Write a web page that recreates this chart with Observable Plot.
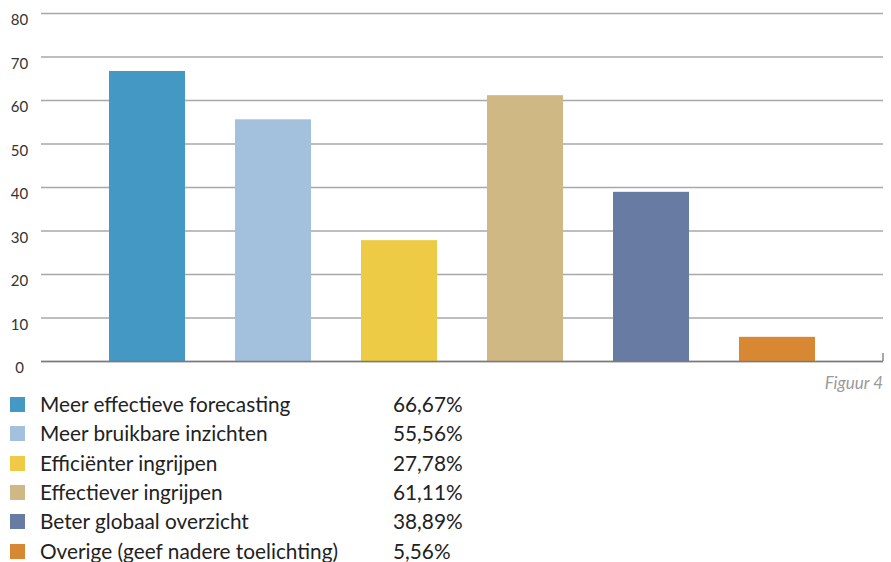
<!DOCTYPE html>
<html>
<head>
<meta charset="utf-8">
<script src="https://cdn.jsdelivr.net/npm/d3@7"></script>
<script src="https://cdn.jsdelivr.net/npm/@observablehq/plot@0.6"></script>
<style>
  html, body { margin: 0; padding: 0; background: #fff; }
  body { width: 891px; height: 562px; position: relative; overflow: hidden; font-family: Lato, "Noto Sans", sans-serif; }
  #chart { position: absolute; left: 0; top: 0; }
  #fig { position: absolute; right: 8px; top: 372px; font-style: italic; color: #9a9a9a; font-size: 17px; }
  #legend { position: absolute; left: 0; top: 391px; }
  .row { position: absolute; left: 0; height: 29px; width: 600px; font-size: 20.8px; line-height: 26px; color: #222; white-space: nowrap; }
  .sw { position: absolute; left: 10px; top: 6px; width: 15px; height: 15px; }
  .lab { position: absolute; left: 40px; top: 0; }
  .pct { position: absolute; left: 393px; top: 0; }
</style>
</head>
<body>
<div id="chart"></div>
<div id="fig">Figuur 4</div>
<div id="legend"></div>
<script>
const categories = [
  "Meer effectieve forecasting",
  "Meer bruikbare inzichten",
  "Efficiënter ingrijpen",
  "Effectiever ingrijpen",
  "Beter globaal overzicht",
  "Overige (geef nadere toelichting)"
];
const values = [66.67, 55.56, 27.78, 61.11, 38.89, 5.56];
const pctLabels = ["66,67%", "55,56%", "27,78%", "61,11%", "38,89%", "5,56%"];
const colors = ["#4399c4", "#a3c0dd", "#edcb45", "#cfb883", "#677ba3", "#d88833"];
const yTicks = [0, 10, 20, 30, 40, 50, 60, 70, 80];

const data = categories.map((c, i) => ({cat: c, value: values[i]}));

const chart = Plot.plot({
  width: 891,
  height: 382,
  marginLeft: 41,
  marginRight: 8,
  marginTop: 13,
  marginBottom: 21,
  style: {fontFamily: "Lato, 'Noto Sans', sans-serif", fontSize: "15px", color: "#333", background: "transparent"},
  x: {domain: categories, paddingInner: 0.4, paddingOuter: 0.525, axis: null},
  y: {domain: [0, 80], label: null},
  color: {domain: categories, range: colors},
  marks: [
    Plot.gridY(yTicks, {stroke: "#a8a8a8", strokeOpacity: 1, strokeWidth: 1.3}),
    Plot.barY(data, {x: "cat", y: "value", fill: "cat"}),
    Plot.ruleY([0], {stroke: "#7a7a7a", strokeWidth: 1.3}),
    Plot.axisY(yTicks, {tickSize: 0, tickPadding: 0, textAnchor: "middle", dx: -22, dy: 7, fill: "#333", fontSize: 15, label: null})
  ]
});
document.getElementById("chart").appendChild(chart);

// small end tick at the right of the baseline, placed via the scales
const xr = chart.scale("x").range;
const y0 = chart.scale("y").apply(0);
d3.select(chart).append("line")
  .attr("x1", xr[1]).attr("x2", xr[1])
  .attr("y1", y0 - 8).attr("y2", y0)
  .attr("stroke", "#7a7a7a").attr("stroke-width", 1.3);

const legend = document.getElementById("legend");
categories.forEach((c, i) => {
  const row = document.createElement("div");
  row.className = "row";
  row.style.top = (i * 29.3) + "px";
  row.innerHTML = `<span class="sw" style="background:${colors[i]}"></span><span class="lab">${c}</span><span class="pct">${pctLabels[i]}</span>`;
  legend.appendChild(row);
});
</script>
</body>
</html>
